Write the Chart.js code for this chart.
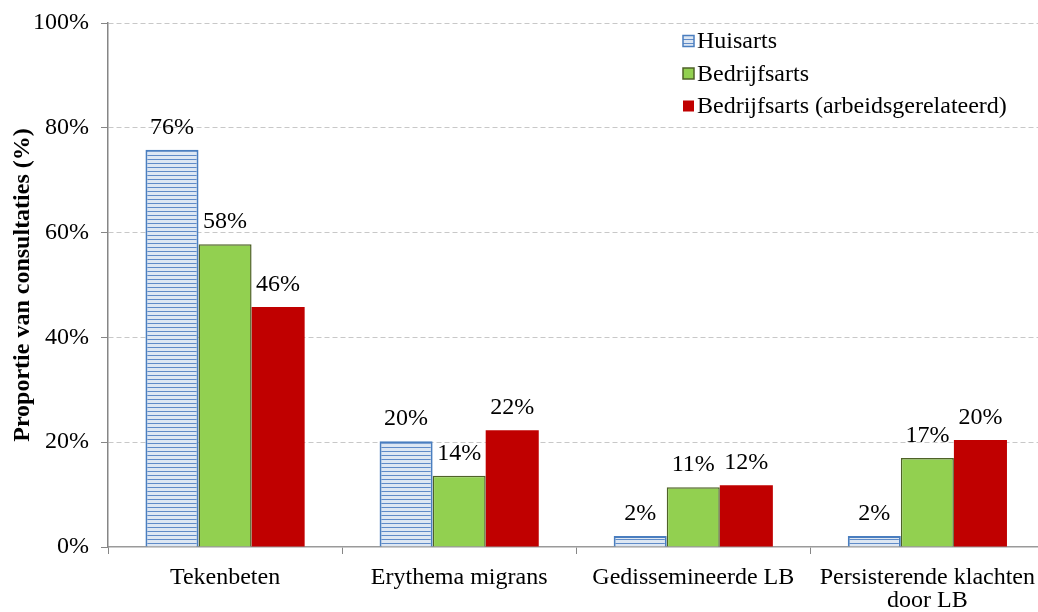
<!DOCTYPE html>
<html>
<head>
<meta charset="utf-8">
<script src="https://cdn.jsdelivr.net/npm/chart.js@4/dist/chart.umd.min.js"></script>
<style>
  html, body { margin: 0; padding: 0; background: #fff; overflow: hidden; }
  #wrap { position: relative; width: 1047px; height: 612px; }
</style>
</head>
<body>
<div id="wrap"><canvas id="c"></canvas></div>
<script>
const categories = ['Tekenbeten', 'Erythema migrans', 'Gedissemineerde LB', ['Persisterende klachten', 'door LB']];
const seriesNames = ['Huisarts', 'Bedrijfsarts', 'Bedrijfsarts (arbeidsgerelateerd)'];
const huisarts = [75.8, 20.2, 2.1, 2.1];
const bedrijfsarts = [57.8, 13.6, 11.4, 17.0];
const bedrijfsartsArbeid = [45.8, 22.3, 11.8, 20.4];
const yTicks = [0, 20, 40, 60, 80, 100];

const FONT = '"Liberation Serif", "Times New Roman", serif';

// hatched pattern for Huisarts
const pc = document.createElement('canvas');
pc.width = 4; pc.height = 4;
const pctx = pc.getContext('2d');
pctx.fillStyle = '#dde7f3';
pctx.fillRect(0, 0, 4, 4);
pctx.fillStyle = '#5f8bc8';
pctx.fillRect(0, 3, 4, 1);
const ctxMain = document.getElementById('c').getContext('2d');
const hatch = ctxMain.createPattern(pc, 'repeat');

const styles = [
  { bg: hatch, border: '#4a7ebf', bw: 2 },
  { bg: '#92d050', border: '#4f6228', bw: 1.5 },
  { bg: '#c00000', border: '#c00000', bw: 0 }
];

const dataLabels = {
  id: 'dataLabels',
  afterDatasetsDraw(chart) {
    const ctx = chart.ctx;
    ctx.save();
    ctx.font = '24px ' + FONT;
    ctx.fillStyle = '#000';
    ctx.textAlign = 'center';
    ctx.textBaseline = 'alphabetic';
    chart.data.datasets.forEach((ds, i) => {
      const meta = chart.getDatasetMeta(i);
      meta.data.forEach((bar, j) => {
        ctx.fillText(Math.round(ds.data[j]) + '%', bar.x, bar.y - 16);
      });
    });
    ctx.restore();
  }
};

const customLegend = {
  id: 'customLegend',
  afterDraw(chart) {
    const ctx = chart.ctx;
    ctx.save();
    ctx.font = '24px ' + FONT;
    ctx.textBaseline = 'middle';
    ctx.textAlign = 'left';
    const x0 = 683, y0 = 41, dy = 32.5, s = 11;
    chart.data.datasets.forEach((ds, i) => {
      const y = y0 + i * dy;
      ctx.fillStyle = ds.backgroundColor;
      ctx.fillRect(x0, y - s / 2, s, s);
      if (ds.borderWidth > 0) {
        ctx.strokeStyle = ds.borderColor;
        ctx.lineWidth = 1.5;
        ctx.strokeRect(x0, y - s / 2, s, s);
      }
      ctx.fillStyle = '#000';
      ctx.fillText(ds.label, x0 + 14, y + 1);
    });
    ctx.restore();
  }
};

const seriesData = [huisarts, bedrijfsarts, bedrijfsartsArbeid];

new Chart(ctxMain, {
  type: 'bar',
  data: {
    labels: categories,
    datasets: seriesNames.map((name, i) => ({
      label: name,
      data: seriesData[i],
      backgroundColor: styles[i].bg,
      borderColor: styles[i].border,
      borderWidth: styles[i].bw,
      categoryPercentage: 0.68,
      barPercentage: 1.0
    }))
  },
  options: {
    responsive: true,
    maintainAspectRatio: false,
    animation: false,
    layout: { padding: { top: 23, left: 8, right: 0, bottom: 0 } },
    plugins: {
      legend: { display: false },
      tooltip: { enabled: false }
    },
    scales: {
      x: {
        offset: true,
        afterFit(scale) { scale.height = 65; },
        grid: {
          offset: true,
          drawOnChartArea: false,
          drawTicks: true,
          tickLength: 7,
          tickColor: '#868686'
        },
        border: { display: true, color: '#9a9a9a', width: 1.5 },
        ticks: {
          color: '#000',
          font: { family: FONT, size: 24, lineHeight: 0.96 },
          padding: 12,
          maxRotation: 0,
          autoSkip: false
        }
      },
      y: {
        min: 0,
        max: 100,
        afterBuildTicks(scale) { scale.ticks = yTicks.map(v => ({ value: v })); },
        afterFit(scale) { scale.width = 100; scale.paddingTop = 0; scale.paddingBottom = 0; },
        grid: {
          color: c => (c.tick && c.tick.value === 0) ? 'rgba(0,0,0,0)' : '#c8c8c8',
          tickLength: 7,
          tickColor: '#868686',
          tickBorderDash: []
        },
        border: { display: true, color: '#868686', width: 1.5, dash: [5, 3] },
        ticks: {
          color: '#000',
          font: { family: FONT, size: 24 },
          padding: 12,
          callback: v => v + '%'
        },
        title: {
          display: true,
          text: 'Proportie van consultaties (%)',
          color: '#000',
          font: { family: FONT, size: 24, weight: 'bold' },
          padding: { top: 0, bottom: 0 }
        }
      }
    }
  },
  plugins: [dataLabels, customLegend]
});
</script>
</body>
</html>
